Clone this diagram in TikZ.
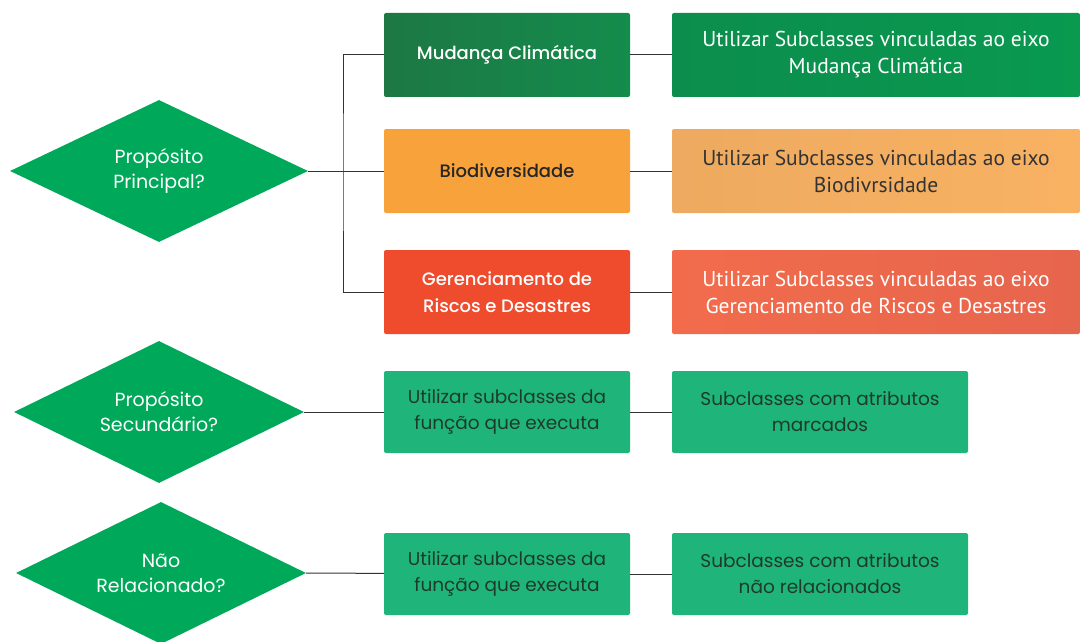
\documentclass[tikz,border=0pt]{standalone}
\usepackage{fontspec}
\setmainfont{Poppins}
\newfontfamily\narrowfont{PT Sans}
\newfontfamily\mediumfont{Poppins Medium}
\usepackage{xcolor}
\usetikzlibrary{shapes.geometric}

\definecolor{decgreen}{HTML}{00A859}
\definecolor{mcleft}{HTML}{1D7843}
\definecolor{mcright}{HTML}{148C4C}
\definecolor{umcleft}{HTML}{0C8D4D}
\definecolor{umcright}{HTML}{09994F}
\definecolor{bioorange}{HTML}{F7A23B}
\definecolor{ubioleft}{HTML}{EDAA60}
\definecolor{ubioright}{HTML}{F9B262}
\definecolor{grdred}{HTML}{EF4B2D}
\definecolor{ugrdleft}{HTML}{F26C4C}
\definecolor{ugrdright}{HTML}{E6654D}
\definecolor{subgreen}{HTML}{1EB47A}
\definecolor{subtext}{HTML}{1E3A2C}
\definecolor{linegray}{HTML}{333333}

\tikzset{
	decision/.style={diamond, fill=decgreen, aspect=2.1, minimum width=#1, minimum height=142pt, inner sep=0pt, align=center, text=white, font=\fontsize{19}{25}\selectfont},
	decision/.default=298pt,
	theme/.style={rounded corners=2pt, minimum width=246pt, minimum height=84pt, align=center, font=\mediumfont\fontsize{18}{27}\selectfont},
	target/.style={rounded corners=2pt, minimum height=84pt, align=center, font=\narrowfont\fontsize{21.5}{27}\selectfont},
	subbox/.style={rounded corners=2pt, fill=subgreen, minimum height=82pt, align=center, text=subtext, font=\fontsize{18.5}{26}\selectfont},
	link/.style={draw=linegray, line width=1pt}
}

\begin{document}
\begin{tikzpicture}[x=1pt,y=-1pt]
	\useasboundingbox (0,0) rectangle (1080,642);
	
	% perguntas
	\node[decision] (princ) at (159,171) {Propósito\\Principal?};
	\node[decision=290pt] (sec) at (159,412) {Propósito\\Secundário?};
	\node[decision=290pt] (nrel) at (161,573) {Não\\Relacionado?};
	
	% eixos
	\node[theme, left color=mcleft, right color=mcright, text=white] (mc) at (507,55) {Mudança Climática};
	\node[theme, fill=bioorange, text=black!85] (bio) at (507,171) {Biodiversidade};
	\node[theme, fill=grdred, text=white] (grd) at (507,292) {Gerenciamento de\\Riscos e Desastres};
	
	\node[target, minimum width=408pt, left color=umcleft, right color=umcright, text=white] (umc) at (876,55) {Utilizar Subclasses vinculadas ao eixo\\Mudança Climática};
	\node[target, minimum width=408pt, left color=ubioleft, right color=ubioright, text=black!80] (ubio) at (876,171) {Utilizar Subclasses vinculadas ao eixo\\Biodivrsidade};
	\node[target, minimum width=408pt, left color=ugrdleft, right color=ugrdright, text=white] (ugrd) at (876,292) {Utilizar Subclasses vinculadas ao eixo\\Gerenciamento de Riscos e Desastres};
	
	% secundario e nao relacionado
	\node[subbox, minimum width=246pt] (secfun) at (507,412) {Utilizar subclasses da\\função que executa};
	\node[subbox, minimum width=296pt] (secatr) at (820,412) {Subclasses com atributos\\marcados};
	\node[subbox, minimum width=246pt] (nrfun) at (507,574) {Utilizar subclasses da\\função que executa};
	\node[subbox, minimum width=296pt] (nratr) at (820,574) {Subclasses com atributos\\não relacionados};
	
	% ligacoes
	\coordinate (split) at (343,171);
	\draw[link] (princ.east) -- (split);
	\draw[link] (mc.west) -| (split) |- (grd.west);
	\draw[link] (split) -- (bio.west);
	\draw[link] (mc) -- (umc);
	\draw[link] (bio) -- (ubio);
	\draw[link] (grd) -- (ugrd);
	\draw[link] (sec.east) -- (secfun);
	\draw[link] (secfun) -- (secatr);
	\draw[link] (nrel.east) -- (nrfun);
	\draw[link] (nrfun) -- (nratr);
\end{tikzpicture}
\end{document}
